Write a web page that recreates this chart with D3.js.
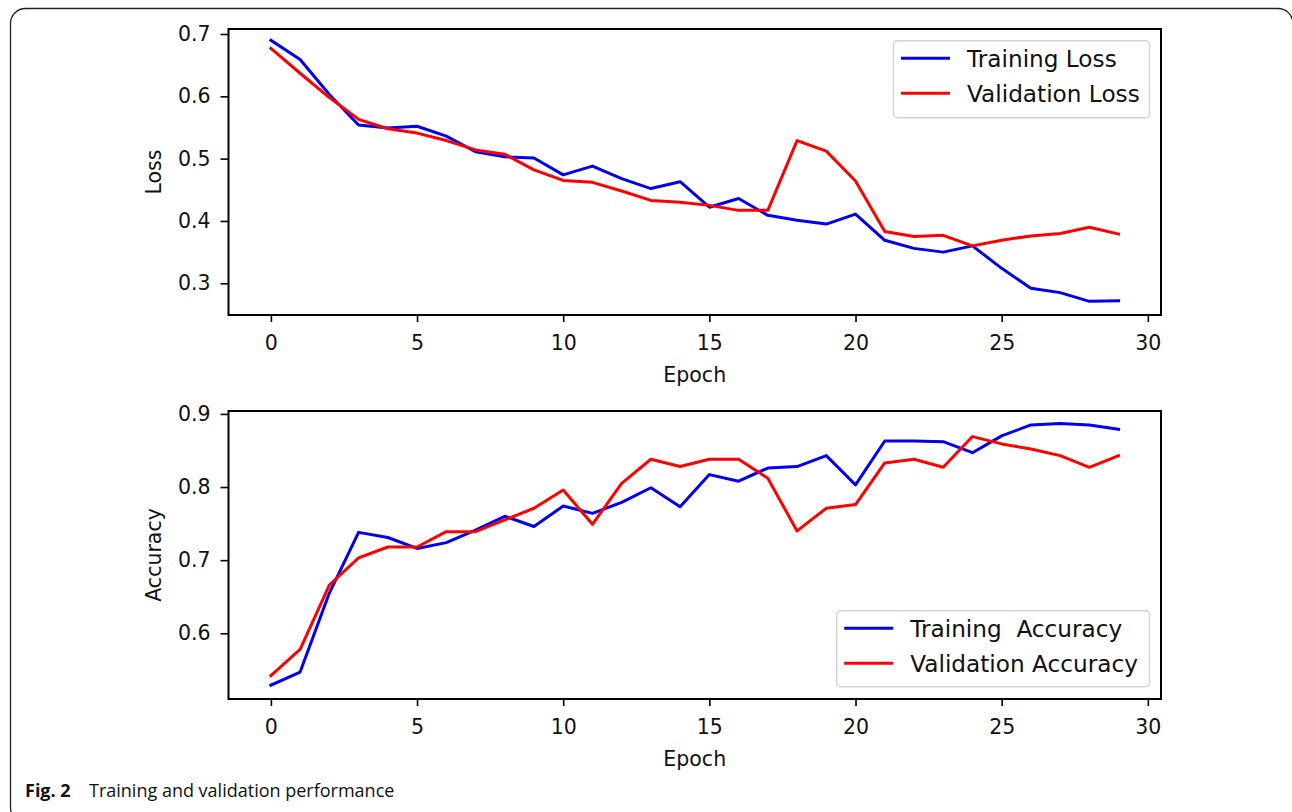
<!DOCTYPE html>
<html>
<head>
<meta charset="utf-8">
<script src="https://cdn.jsdelivr.net/npm/d3@7"></script>
<style>
  html, body { margin: 0; padding: 0; background: #fff; }
  svg { display: block; }
</style>
</head>
<body>
<svg id="fig" width="1292" height="812"></svg>
<script>
// Per-epoch training history
const epochs = d3.range(0, 30);

const trainLoss = [0.690, 0.659, 0.603, 0.554, 0.549, 0.552, 0.536, 0.511, 0.503, 0.501,
                   0.474, 0.488, 0.468, 0.452, 0.463, 0.422, 0.436, 0.409, 0.401, 0.395,
                   0.411, 0.369, 0.356, 0.350, 0.360, 0.324, 0.292, 0.285, 0.271, 0.272];
const valLoss   = [0.677, 0.637, 0.598, 0.563, 0.548, 0.541, 0.529, 0.514, 0.507, 0.482,
                   0.465, 0.462, 0.448, 0.433, 0.430, 0.425, 0.417, 0.417, 0.529, 0.512,
                   0.464, 0.383, 0.375, 0.377, 0.360, 0.369, 0.376, 0.380, 0.390, 0.379];

const trainAcc  = [0.529, 0.547, 0.655, 0.738, 0.731, 0.716, 0.724, 0.741, 0.760, 0.746,
                   0.774, 0.764, 0.779, 0.799, 0.773, 0.817, 0.808, 0.826, 0.828, 0.843,
                   0.803, 0.863, 0.863, 0.862, 0.847, 0.870, 0.885, 0.887, 0.885, 0.879];
const valAcc    = [0.542, 0.578, 0.666, 0.703, 0.718, 0.718, 0.739, 0.739, 0.755, 0.771,
                   0.796, 0.749, 0.805, 0.838, 0.828, 0.838, 0.838, 0.812, 0.740, 0.771,
                   0.776, 0.833, 0.838, 0.827, 0.869, 0.859, 0.852, 0.843, 0.827, 0.843];

// Tick labels
const xTicks     = [0, 5, 10, 15, 20, 25, 30];
const lossTicks  = [0.3, 0.4, 0.5, 0.6, 0.7];
const accTicks   = [0.6, 0.7, 0.8, 0.9];

const lossLegend = ["Training Loss", "Validation Loss"];
const accLegend  = ["Training  Accuracy", "Validation Accuracy"];
const seriesColors = ["#0000f0", "#ff0000"];

const FONT = "'DejaVu Sans', sans-serif";
const svg = d3.select("#fig");

// Outer frame of the figure panel (right and bottom run off the page edge)
svg.append("path")
  .attr("d", "M 26,822 A 15 15 0 0 1 10.5,806 L 10.5,23 A 15 15 0 0 1 25.5,8.5 L 1278,8.5 A 15 15 0 0 1 1293,23.5")
  .attr("fill", "none")
  .attr("stroke", "#222")
  .attr("stroke-width", 1.3);

function panel(cfg) {
  const x = d3.scaleLinear().domain([-1.45, 30.45]).range([cfg.left, cfg.right]);
  const y = d3.scaleLinear().domain(cfg.yDomain).range([cfg.bottom, cfg.top]);
  const g = svg.append("g");

  // Series
  const line = d3.line().x((d, i) => x(epochs[i])).y(d => y(d));
  cfg.series.forEach((s, k) => {
    g.append("path")
      .datum(s)
      .attr("d", line)
      .attr("fill", "none")
      .attr("stroke", seriesColors[k])
      .attr("stroke-width", 3)
      .attr("stroke-linejoin", "round")
      .attr("stroke-linecap", "square");
  });

  // Axes
  const xAxis = g.append("g")
    .attr("transform", `translate(0,${cfg.bottom})`)
    .call(d3.axisBottom(x).tickValues(xTicks).tickFormat(d3.format("d"))
      .tickSize(7).tickSizeOuter(0).tickPadding(13));
  const yAxis = g.append("g")
    .attr("transform", `translate(${cfg.left},0)`)
    .call(d3.axisLeft(y).tickValues(cfg.yTicks).tickFormat(d3.format(".1f"))
      .tickSize(8).tickSizeOuter(0).tickPadding(10));
  [xAxis, yAxis].forEach(a => {
    a.select(".domain").remove();
    a.selectAll(".tick line").attr("stroke", "#000").attr("stroke-width", 1.6);
    a.selectAll(".tick text").attr("fill", "#111")
      .style("font-family", FONT).style("font-size", "20.5px");
  });

  // Plot frame
  g.append("rect")
    .attr("x", cfg.left).attr("y", cfg.top)
    .attr("width", cfg.right - cfg.left).attr("height", cfg.bottom - cfg.top)
    .attr("fill", "none").attr("stroke", "#000").attr("stroke-width", 2);

  // Axis titles
  g.append("text")
    .attr("x", (cfg.left + cfg.right) / 2).attr("y", cfg.bottom + 67)
    .attr("text-anchor", "middle")
    .style("font-family", FONT).style("font-size", "20.5px").attr("fill", "#111")
    .text("Epoch");
  g.append("text")
    .attr("transform", `translate(161,${(cfg.top + cfg.bottom) / 2}) rotate(-90)`)
    .attr("text-anchor", "middle")
    .style("font-family", FONT).style("font-size", "20.5px").attr("fill", "#111")
    .text(cfg.yLabel);

  // Legend
  const lg = g.append("g");
  lg.append("rect")
    .attr("x", cfg.legend.x0).attr("y", cfg.legend.y0)
    .attr("width", cfg.legend.x1 - cfg.legend.x0).attr("height", cfg.legend.y1 - cfg.legend.y0)
    .attr("rx", 4).attr("ry", 4)
    .attr("fill", "#fff").attr("fill-opacity", 0.85)
    .attr("stroke", "#d4d4d4").attr("stroke-width", 1.5);
  cfg.legend.labels.forEach((lab, k) => {
    const ly = cfg.legend.y0 + 17.6 + k * 35;
    lg.append("line")
      .attr("x1", cfg.legend.x0 + 7.5).attr("x2", cfg.legend.x0 + 56.5)
      .attr("y1", ly).attr("y2", ly)
      .attr("stroke", seriesColors[k]).attr("stroke-width", 3);
    lg.append("text")
      .attr("x", cfg.legend.x0 + 73.5).attr("y", ly + 8.4)
      .style("font-family", FONT).style("font-size", "23.2px").attr("fill", "#111")
      .style("white-space", "pre")
      .text(lab);
  });
}

panel({
  left: 228.5, right: 1161, top: 29, bottom: 315,
  yDomain: [0.2491, 0.708], yTicks: lossTicks, yLabel: "Loss",
  series: [trainLoss, valLoss],
  legend: { x0: 893.5, x1: 1149.5, y0: 40.7, y1: 117.7, labels: lossLegend }
});

panel({
  left: 228.5, right: 1161, top: 411, bottom: 699,
  yDomain: [0.5101, 0.904], yTicks: accTicks, yLabel: "Accuracy",
  series: [trainAcc, valAcc],
  legend: { x0: 836.7, x1: 1149.5, y0: 610.7, y1: 686.7, labels: accLegend }
});

// Caption
const cap = svg.append("text")
  .attr("x", 25).attr("y", 797)
  .style("font-family", "'Open Sans', sans-serif").style("font-size", "18px")
  .attr("fill", "#111");
cap.append("tspan").style("font-weight", "bold").text("Fig. 2");
cap.append("tspan").attr("x", 89).text("Training and validation performance");
</script>
</body>
</html>
